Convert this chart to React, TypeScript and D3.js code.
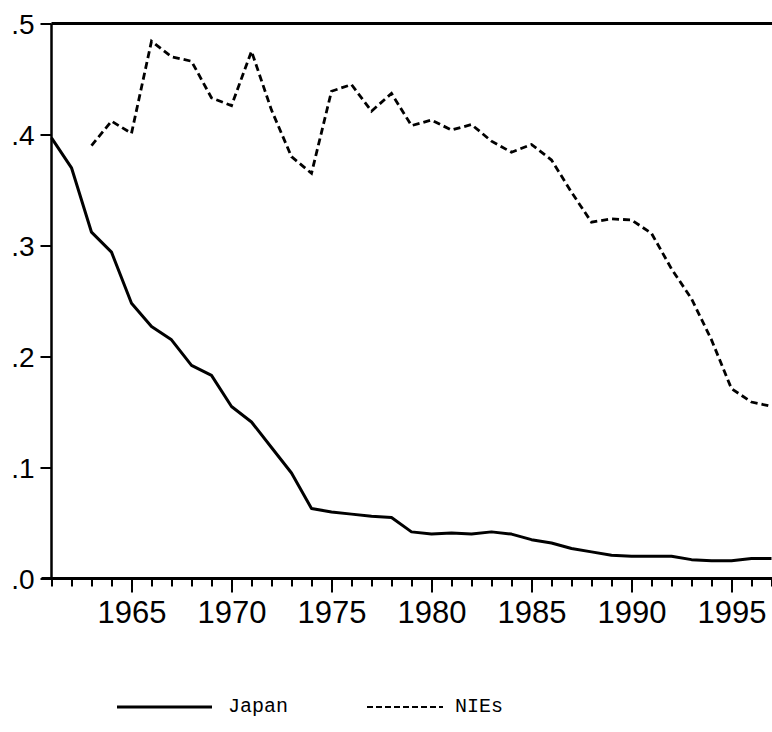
import React, { useEffect, useRef } from "react";
import * as d3 from "d3";

// years 1961..1997
const japanYears = d3.range(1961, 1998);
const japan = [
  0.397, 0.370, 0.312, 0.294, 0.248, 0.227, 0.215, 0.192, 0.183, 0.155,
  0.141, 0.118, 0.095, 0.063, 0.060, 0.058, 0.056, 0.055, 0.042, 0.040,
  0.041, 0.040, 0.042, 0.040, 0.035, 0.032, 0.027, 0.024, 0.021, 0.020,
  0.020, 0.020, 0.017, 0.016, 0.016, 0.018, 0.018,
];
const niesYears = d3.range(1963, 1998);
const nies = [
  0.390, 0.412, 0.401, 0.484, 0.470, 0.466, 0.433, 0.426, 0.475, 0.422,
  0.380, 0.365, 0.439, 0.445, 0.421, 0.437, 0.408, 0.413, 0.404, 0.409,
  0.394, 0.384, 0.391, 0.377, 0.348, 0.321, 0.324, 0.323, 0.311, 0.279,
  0.252, 0.215, 0.171, 0.159, 0.155,
];
const yTicks = [0, 0.1, 0.2, 0.3, 0.4, 0.5];
const yTickLabels = [".0", ".1", ".2", ".3", ".4", ".5"];
const legendNames = ["Japan", "NIEs"];

const W = 772;
const H = 732;

export default function App() {
  const ref = useRef<SVGSVGElement>(null);

  useEffect(() => {
    const svg = d3.select(ref.current);
    svg.selectAll("*").remove();

    const left = 51.5, right = 771.5, top = 23.5, bottom = 578.5;
    const x = d3.scaleLinear().domain([1961, 1997]).range([left, right]);
    const y = d3.scaleLinear().domain([0, 0.5]).range([bottom, top]);

    // frame top
    svg.append("line")
      .attr("x1", left).attr("x2", W).attr("y1", top).attr("y2", top)
      .attr("stroke", "#000").attr("stroke-width", 3);

    // y axis
    const ya = svg.append("g").attr("transform", `translate(${left},0)`)
      .call(d3.axisLeft(y).tickValues(yTicks).tickSize(11).tickFormat((d, i) => yTickLabels[i]));
    ya.select(".domain").attr("stroke-width", 2.5).attr("d", `M0,${top}V${bottom}`);
    ya.selectAll(".tick line").attr("stroke-width", 2);
    ya.selectAll(".tick text")
      .attr("x", -17).attr("dy", "0.36em")
      .style("font-family", "'Liberation Sans', Arial, sans-serif")
      .style("font-size", "28px").attr("fill", "#000");

    // x axis
    const years = d3.range(1961, 1998);
    const xa = svg.append("g").attr("transform", `translate(0,${bottom})`)
      .call(d3.axisBottom(x).tickValues(years).tickSize(8)
        .tickFormat((d) => (+d % 5 === 0 ? String(d) : "")));
    xa.select(".domain").attr("stroke-width", 3).attr("d", `M${left - 10},0H${W}`);
    xa.selectAll(".tick line").attr("stroke-width", 2)
      .attr("y2", (d: any) => (d % 5 === 0 ? 14 : 8));
    xa.selectAll(".tick text")
      .attr("y", 44).attr("dy", 0)
      .style("font-family", "'Liberation Sans', Arial, sans-serif")
      .style("font-size", "31px").attr("fill", "#000");

    svg.append("path")
      .datum(japan.map((v, i) => [x(japanYears[i]), y(v)] as [number, number]))
      .attr("fill", "none").attr("stroke", "#000").attr("stroke-width", 3)
      .attr("stroke-linejoin", "round")
      .attr("d", d3.line() as any);

    svg.append("path")
      .datum(nies.map((v, i) => [x(niesYears[i]), y(v)] as [number, number]))
      .attr("fill", "none").attr("stroke", "#000").attr("stroke-width", 2.8)
      .attr("stroke-dasharray", "7,4")
      .attr("d", d3.line() as any);

    // legend
    const lg = svg.append("g");
    lg.append("line").attr("x1", 117).attr("x2", 212).attr("y1", 707).attr("y2", 707)
      .attr("stroke", "#000").attr("stroke-width", 3);
    lg.append("text").attr("x", 228).attr("y", 712).text(legendNames[0])
      .style("font-family", "'Courier New', 'Liberation Mono', monospace")
      .style("font-size", "20px");
    lg.append("line").attr("x1", 367).attr("x2", 443).attr("y1", 707).attr("y2", 707)
      .attr("stroke", "#000").attr("stroke-width", 2)
      .attr("stroke-dasharray", "6,3");
    lg.append("text").attr("x", 455).attr("y", 712).text(legendNames[1])
      .style("font-family", "'Courier New', 'Liberation Mono', monospace")
      .style("font-size", "20px");
  }, []);

  return (
    <svg ref={ref} width={W} height={H}
      style={{ position: "absolute", left: 0, top: 0, background: "#fff" }} />
  );
}
